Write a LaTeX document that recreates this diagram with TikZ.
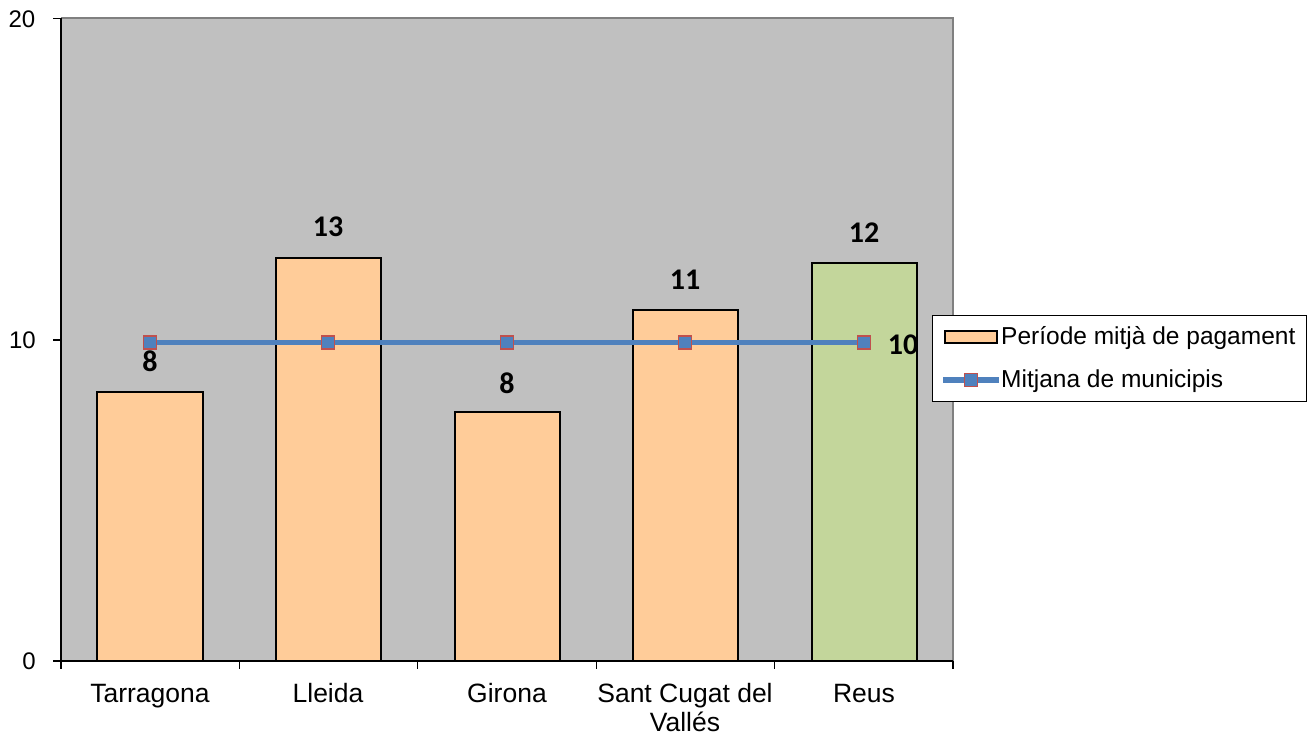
\documentclass[tikz,border=0pt]{standalone}
\usepackage{fontspec}
\setmainfont{Liberation Sans}
\newfontfamily\calib{Carlito}
\definecolor{plotbg}{HTML}{C0C0C0}
\definecolor{plotedge}{HTML}{808080}
\definecolor{peach}{HTML}{FFCC99}
\definecolor{sage}{HTML}{C3D69B}
\definecolor{lineblue}{HTML}{4F81BD}
\definecolor{markred}{HTML}{C0504D}
\tikzset{
  barbox/.style={draw=black, line width=2pt},
  axislbl/.style={font=\fontsize{24}{28}\selectfont, anchor=east, inner sep=0pt},
  catlbl/.style={font=\fontsize{26.5}{29.5}\selectfont, align=center, inner sep=0pt, anchor=base},
  datalbl/.style={font=\calib\bfseries\fontsize{30}{34}\selectfont, inner sep=0pt},
  marker/.style={draw=markred, fill=lineblue, line width=1.6pt, minimum size=13pt, inner sep=0pt, rectangle},
  avgline/.style={draw=lineblue, line width=5.5pt},
  legtxt/.style={font=\fontsize{24.5}{28}\selectfont, anchor=west, inner sep=0pt},
}
\begin{document}
\begin{tikzpicture}[x=1pt,y=-1pt]
\fill[white] (0,0) rectangle (1309,738);
\useasboundingbox (0,0) rectangle (1309,738);
% plot area
\fill[plotbg] (61,18.5) rectangle (953,661);
\draw[plotedge, line width=2pt] (61,18.5) -- (953,18.5) -- (953,661);
% bars
\draw[barbox, fill=peach] (97,661) rectangle (203,392);
\draw[barbox, fill=peach] (276,661) rectangle (381,257.5);
\draw[barbox, fill=peach] (455,661) rectangle (560,412);
\draw[barbox, fill=peach] (633,661) rectangle (738,309.5);
\draw[barbox, fill=sage] (812,661) rectangle (917,262.5);
% axes
\draw[black, line width=1.5pt] (61,18) -- (61,661) -- (953,661);
\foreach \yy in {18.5,340,661} \draw[black, line width=1.2pt] (53,\yy) -- (61,\yy);
\foreach \xx in {61,239.4,417.8,596.2,774.6,953} \draw[black, line width=1.2pt] (\xx,661) -- (\xx,669);
% axis labels
\node[axislbl] (y20) at (35.5,19) {20};
\node[axislbl] (y10) at (36,340) {10};
\node[axislbl] (y0) at (36,661) {0};
% category labels
\node[catlbl] (c1) at (150,702) {Tarragona};
\node[catlbl] (c2) at (328,702) {Lleida};
\node[catlbl] (c3) at (507,702) {Girona};
\node[catlbl] (c4) at (685,731.5) {Sant Cugat del\\Vallés};
\node[catlbl] (c5) at (864,702) {Reus};
% average line
\coordinate (p1) at (150,342.5);
\coordinate (p2) at (328,342.5);
\coordinate (p3) at (507,342.5);
\coordinate (p4) at (685,342.5);
\coordinate (p5) at (864,342.5);
\draw[avgline] (p1) -- (p2) -- (p3) -- (p4) -- (p5);
\foreach \i in {1,...,5} \node[marker] (m\i) at (p\i) {};
% data labels
\node[datalbl] (d1) at (150,361) {8};
\node[datalbl] (d2) at (328,227) {13};
\node[datalbl] (d3) at (507,383) {8};
\node[datalbl] (d4) at (685,280) {11};
\node[datalbl] (d5) at (864,233) {12};
\node[datalbl] (d6) at (903,345) {10};
% legend
\draw[black, line width=1pt, fill=white] (932.5,315.5) rectangle (1306,401);
\draw[barbox, fill=peach] (944.5,331) rectangle (996.5,343);
\node[legtxt] (l1) at (1001,338) {Període mitjà de pagament};
\coordinate (la) at (943,380);
\coordinate (lb) at (999,380);
\draw[avgline] (la) -- (lb);
\node[marker] (lm) at (971,380) {};
\node[legtxt] (l2) at (1001,381) {Mitjana de municipis};
\end{tikzpicture}
\end{document}
